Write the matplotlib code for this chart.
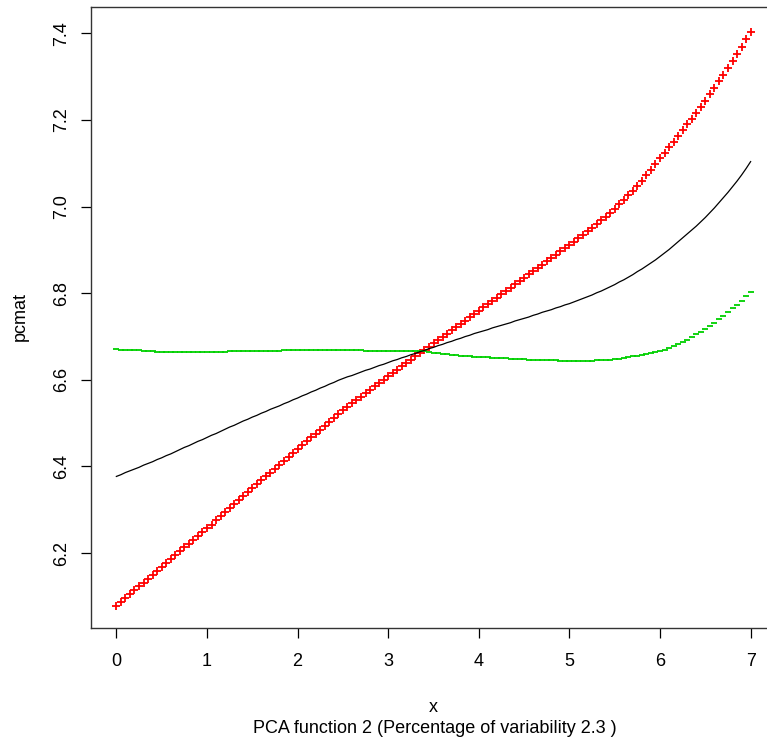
#!/usr/bin/env python3

import numpy as np
import matplotlib.pyplot as plt

plt.rcParams['font.family'] = ['Liberation Sans', 'DejaVu Sans']

# evaluation grid, 0 to 7 in steps of 0.05
x = np.linspace(0, 7, 141)

# mean function (black line)
mean_curve = [
    6.377, 6.381, 6.386, 6.390, 6.394, 6.398, 6.403, 6.407, 6.411, 6.416,
    6.420, 6.425, 6.429, 6.434, 6.439, 6.444, 6.448, 6.453, 6.458, 6.462,
    6.467, 6.472, 6.476, 6.481, 6.486, 6.491, 6.495, 6.500, 6.505, 6.509,
    6.514, 6.518, 6.523, 6.527, 6.532, 6.536, 6.540, 6.545, 6.549, 6.554,
    6.558, 6.563, 6.567, 6.572, 6.576, 6.581, 6.585, 6.590, 6.594, 6.599,
    6.603, 6.607, 6.610, 6.614, 6.618, 6.622, 6.625, 6.629, 6.633, 6.636,
    6.640, 6.644, 6.647, 6.651, 6.654, 6.658, 6.661, 6.665, 6.668, 6.672,
    6.675, 6.679, 6.682, 6.686, 6.689, 6.693, 6.696, 6.700, 6.703, 6.707,
    6.710, 6.713, 6.716, 6.720, 6.723, 6.726, 6.729, 6.732, 6.736, 6.739,
    6.742, 6.745, 6.749, 6.752, 6.756, 6.759, 6.762, 6.766, 6.769, 6.773,
    6.776, 6.780, 6.784, 6.788, 6.792, 6.796, 6.801, 6.805, 6.810, 6.815,
    6.820, 6.826, 6.831, 6.837, 6.843, 6.850, 6.856, 6.863, 6.870, 6.877,
    6.885, 6.893, 6.901, 6.910, 6.919, 6.928, 6.937, 6.946, 6.955, 6.965,
    6.975, 6.986, 6.997, 7.009, 7.021, 7.033, 7.046, 7.059, 7.073, 7.088,
    7.104,
]

# mean + PC2 (red plus signs)
plus_curve = [
    6.078, 6.087, 6.096, 6.105, 6.114, 6.123, 6.132, 6.141, 6.150, 6.159,
    6.168, 6.177, 6.186, 6.195, 6.204, 6.213, 6.221, 6.230, 6.239, 6.248,
    6.257, 6.266, 6.276, 6.285, 6.294, 6.304, 6.313, 6.322, 6.331, 6.341,
    6.350, 6.359, 6.368, 6.377, 6.386, 6.395, 6.404, 6.413, 6.422, 6.431,
    6.440, 6.449, 6.458, 6.467, 6.476, 6.485, 6.494, 6.503, 6.512, 6.521,
    6.530, 6.538, 6.546, 6.553, 6.561, 6.569, 6.577, 6.585, 6.592, 6.600,
    6.608, 6.616, 6.623, 6.631, 6.638, 6.646, 6.654, 6.661, 6.669, 6.676,
    6.684, 6.692, 6.699, 6.707, 6.714, 6.722, 6.730, 6.737, 6.745, 6.752,
    6.760, 6.768, 6.775, 6.783, 6.790, 6.798, 6.806, 6.813, 6.821, 6.828,
    6.836, 6.844, 6.851, 6.859, 6.866, 6.874, 6.882, 6.889, 6.897, 6.904,
    6.912, 6.919, 6.927, 6.935, 6.943, 6.951, 6.959, 6.968, 6.977, 6.986,
    6.995, 7.005, 7.015, 7.026, 7.037, 7.048, 7.060, 7.072, 7.085, 7.098,
    7.112, 7.125, 7.137, 7.150, 7.163, 7.176, 7.190, 7.203, 7.217, 7.231,
    7.245, 7.260, 7.274, 7.289, 7.305, 7.320, 7.336, 7.352, 7.369, 7.386,
    7.403,
]

# mean - PC2 (green minus signs)
minus_curve = [
    6.671, 6.670, 6.670, 6.669, 6.668, 6.668, 6.667, 6.666, 6.666, 6.665,
    6.665, 6.665, 6.665, 6.665, 6.665, 6.665, 6.665, 6.665, 6.665, 6.665,
    6.665, 6.665, 6.665, 6.665, 6.665, 6.666, 6.666, 6.666, 6.666, 6.666,
    6.666, 6.666, 6.667, 6.667, 6.667, 6.667, 6.667, 6.668, 6.668, 6.668,
    6.668, 6.668, 6.668, 6.668, 6.668, 6.668, 6.668, 6.668, 6.668, 6.668,
    6.668, 6.668, 6.668, 6.668, 6.668, 6.667, 6.667, 6.667, 6.667, 6.667,
    6.667, 6.667, 6.667, 6.667, 6.666, 6.666, 6.666, 6.666, 6.666, 6.665,
    6.663, 6.661, 6.660, 6.659, 6.658, 6.657, 6.656, 6.655, 6.654, 6.653,
    6.653, 6.652, 6.652, 6.651, 6.651, 6.650, 6.650, 6.649, 6.649, 6.648,
    6.648, 6.647, 6.647, 6.646, 6.646, 6.645, 6.645, 6.645, 6.644, 6.644,
    6.644, 6.644, 6.644, 6.644, 6.644, 6.644, 6.645, 6.645, 6.646, 6.647,
    6.648, 6.649, 6.651, 6.652, 6.654, 6.656, 6.658, 6.660, 6.662, 6.664,
    6.666, 6.670, 6.674, 6.678, 6.683, 6.688, 6.693, 6.699, 6.705, 6.711,
    6.718, 6.725, 6.732, 6.740, 6.748, 6.756, 6.765, 6.774, 6.783, 6.793,
    6.803,
]

x_ticks = [0, 1, 2, 3, 4, 5, 6, 7]
y_ticks = [6.2, 6.4, 6.6, 6.8, 7.0, 7.2, 7.4]

W, H = 767, 743
fig = plt.figure(figsize=(W / 100, H / 100), dpi=100)
# plot box runs past the right edge of the picture, like the reference
ax = fig.add_axes([91 / W, (H - 628) / H, (776 - 91) / W, (628 - 7) / H])

ax.plot(x, plus_curve, linestyle='none', marker='+', color='#ff0000',
        markersize=5.5, markeredgewidth=1.3)
ax.plot(x, minus_curve, linestyle='none', marker='_', color='#00d000',
        markersize=5, markeredgewidth=1.3)
ax.plot(x, mean_curve, color='black', linewidth=0.9)

ax.set_xlim(-0.28, 7.28)
ax.set_ylim(6.027, 7.461)
ax.set_xticks(x_ticks)
ax.set_yticks(y_ticks)
ax.set_xticklabels([str(t) for t in x_ticks])
ax.set_yticklabels(['%.1f' % t for t in y_ticks])
ax.tick_params(direction='out', length=7, width=0.9, labelsize=13)
ax.tick_params(axis='x', pad=11)
ax.tick_params(axis='y', pad=8)
for lab in ax.get_yticklabels():
    lab.set_rotation(90)
    lab.set_va('center')

for side in ['left', 'bottom', 'top']:
    ax.spines[side].set_linewidth(1.0)
    ax.spines[side].set_color('#333333')
ax.spines['right'].set_visible(False)

fig.text(433 / W, (H - 712) / H, 'x', ha='center', va='baseline', fontsize=13)
fig.text(435 / W, (H - 733) / H, 'PCA function 2 (Percentage of variability 2.3 )',
         ha='center', va='baseline', fontsize=13)
fig.text(20 / W, 1 - 317 / H, 'pcmat', rotation=90, ha='center', va='center',
         fontsize=13)

fig.savefig('out.png', dpi=100)
